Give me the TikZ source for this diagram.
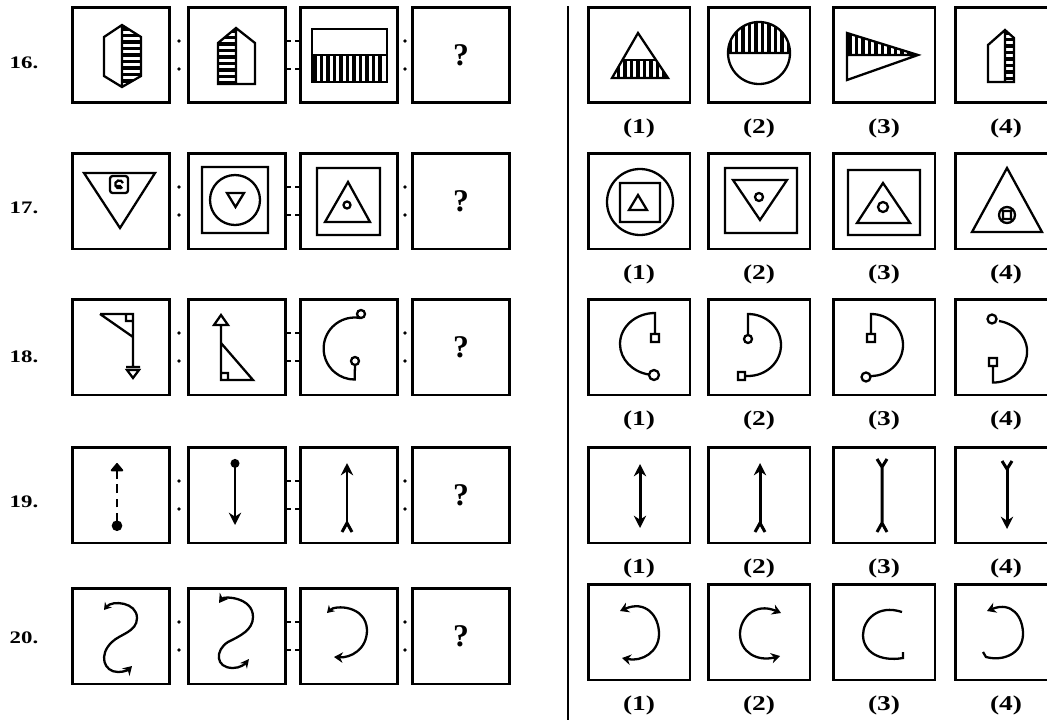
\documentclass[tikz,border=0pt]{standalone}
\usepackage{fontspec}
\setmainfont{Liberation Serif}
\newfontfamily\widefont[FakeStretch=1.3]{Liberation Serif}
\usetikzlibrary{arrows.meta}

\tikzset{
  cell/.style={draw, line width=1.7pt, minimum width=1.94cm, minimum height=1.92cm, inner sep=0pt},
  anscell/.style={cell, minimum width=2.04cm},
  fig/.style={line width=1.3pt},
  hatch/.style={line width=2.2pt},
  shaft/.style={line width=1.7pt},
  rownum/.style={font=\widefont\bfseries\fontsize{10}{12}\selectfont},
  optnum/.style={font=\widefont\bfseries\fontsize{12}{14}\selectfont},
  qmark/.style={font=\bfseries\fontsize{18}{22}\selectfont}
}

\begin{document}
\begin{tikzpicture}[x=0.02cm, y=-0.02cm]
\useasboundingbox (0,0) rectangle (1047,720);
% frames, numbers and the analogy marks
\foreach \r/\py/\ay/\ny in {16/55/55/63, 17/201/201/208, 18/347/347/357, 19/495/495/502, 20/636/632/638}{
  \node[rownum] (n\r) at (24,\ny) {\r.};
  \foreach \c/\px/\ax in {1/121/639, 2/237/759, 3/349/884, 4/461/1006}{
    \node[cell] (p\r-\c) at (\px,\py) {};
    \node[anscell] (a\r-\c) at (\ax,\ay) {};
    \node[optnum] (o\r-\c) at (\ax,\ay+73) {(\c)};
  }
  \node[qmark] (q\r) at (p\r-4) {?};
  \fill (179,\py-14) circle (1.8) (179,\py+14) circle (1.8);
  \fill (405,\py-14) circle (1.8) (405,\py+14) circle (1.8);
  \draw[line width=1.6pt] (285,\py-14)--(291,\py-14) (295,\py-14)--(301,\py-14)
                          (285,\py+14)--(291,\py+14) (295,\py+14)--(301,\py+14);
}
\draw[line width=1.6pt] (568,6)--(568,720);

% 16
\begin{scope}
\clip (122,25)--(141,37)--(141,76)--(122,87)--cycle;
\foreach \y in {29,35.5,...,87} \draw[hatch] (122,\y)--(141,\y);
\end{scope}
\draw[fig] (122,25)--(141,37)--(141,76)--(122,87)--(104,76)--(104,37)--cycle (122,25)--(122,87);
\begin{scope}
\clip (218,84)--(218,43)--(236,28)--(236,84)--cycle;
\foreach \y in {31,37.5,...,84} \draw[hatch] (218,\y)--(236,\y);
\end{scope}
\draw[fig] (218,84)--(218,43)--(236,28)--(255,43)--(255,84)--cycle (236,28)--(236,84);
\foreach \x in {315,321.5,...,385} \draw[hatch] (\x,55)--(\x,82);
\draw[fig] (312,29) rectangle (387,82) (312,55)--(387,55);
\begin{scope}
\clip (638,33)--(668,78)--(612,78)--cycle;
\foreach \x in {612,618.5,...,668} \draw[hatch] (\x,60)--(\x,78);
\draw[fig] (600,60)--(680,60);
\end{scope}
\draw[fig] (638,33)--(668,78)--(612,78)--cycle;
\begin{scope}
\clip (759,53) circle (31);
\foreach \x in {730,736.5,...,790} \draw[hatch] (\x,20)--(\x,53);
\end{scope}
\draw[fig] (759,53) circle (31) (728,53)--(790,53);
\begin{scope}
\clip (847,33)--(918,55)--(847,55)--cycle;
\foreach \x in {850,856.5,...,918} \draw[hatch] (\x,30)--(\x,55);
\end{scope}
\draw[fig] (847,33)--(918,55)--(847,80)--cycle (847,55)--(918,55);
\begin{scope}
\clip (1005,30)--(1014,38)--(1014,82)--(1005,82)--cycle;
\foreach \y in {33,39.5,...,82} \draw[hatch] (1005,\y)--(1014,\y);
\end{scope}
\draw[fig] (988,82)--(988,45)--(1005,30)--(1014,38)--(1014,82)--cycle (1005,30)--(1005,82);

% 17
\draw[fig] (84,173)--(155,173)--(120,228)--cycle;
\draw[fig, rounded corners=1.5] (110,176) rectangle (128,193);
\draw[fig] (123,183) arc[start angle=-20, end angle=-320, radius=4] (116,186)--(121,186);
\draw[fig] (202,167) rectangle (268,233) (235,200) circle (25) (227,193)--(244,193)--(235.5,207)--cycle;
\draw[fig] (317,168) rectangle (380,235) (348,182)--(370,222)--(325,222)--cycle (347,205) circle (3.5);
\draw[fig] (640,202) circle (33) (620,183) rectangle (660,222) (638,195)--(647,210)--(629,210)--cycle;
\draw[fig] (725,168) rectangle (797,233) (733,180)--(787,180)--(760,220)--cycle (759,197) circle (4);
\draw[fig] (848,170) rectangle (920,235) (883,183)--(910,223)--(857,223)--cycle (883,207) circle (5);
\draw[fig] (1007,168)--(1042,232)--(972,232)--cycle (1007,215) circle (8) (1003,211) rectangle (1011,219);

% 18
\draw[fig] (100,314)--(133,314)--(133,367) (100,314)--(133,337) (126,314) rectangle (133,321)
           (126,367)--(140,367) (127,370)--(139,370)--(133,378)--cycle;
\draw[fig] (221,315)--(228,325)--(214,325)--cycle (221,325)--(221,380)--(253,380)--(221,343)
           (221,373) rectangle (228,380);
\draw[fig] (360,318) arc[start angle=280, end angle=90, radius=31] -- (355,365)
           (361,314) circle (4) (355,361) circle (4);
\draw[fig] (655,334)--(655,313) arc[start angle=270, end angle=100, x radius=35, y radius=31]
           (654,375) circle (5) (651,334) rectangle (659,342);
\draw[fig] (748,339) circle (4) (748,335)--(748,314) arc[start angle=270, end angle=450, x radius=33, y radius=31]
           -- (745,376) (738,372) rectangle (745,380);
\draw[fig] (871,334)--(871,314) arc[start angle=270, end angle=450, x radius=32, y radius=31]
           (867,334) rectangle (875,342) (866,377) circle (4.5);
\draw[fig] (999,321) arc[start angle=280, end angle=450, x radius=34, y radius=31] -- (993,366)
           (992,319) circle (4.5) (989,358) rectangle (997,366);

% 19
\draw[line width=1pt, dash pattern=on 5pt off 3pt, {Circle[length=6pt]}-{Triangle[length=5pt,width=8pt,round]}] (117,531)--(117,463);
\draw[shaft, {Circle[length=5pt]}-{Stealth[length=7pt,width=7pt]}] (235,459)--(235,525);
\draw[shaft, -{Stealth[length=7pt,width=7pt]}] (347,523)--(347,463);
\draw[shaft] (342,532)--(347,523)--(352,532);
\draw[shaft, {Stealth[length=7pt,width=7pt]}-{Stealth[length=7pt,width=7pt]}] (640,464)--(640,528);
\draw[shaft, -{Stealth[length=7pt,width=7pt]}] (760,523)--(760,463);
\draw[shaft] (755,532)--(760,523)--(765,532);
\draw[shaft] (877,459)--(882,467)--(887,459) (882,467)--(882,523) (877,532)--(882,523)--(887,532);
\draw[shaft] (1002,461)--(1007,469)--(1012,461);
\draw[shaft, -{Stealth[length=7pt,width=7pt]}] (1007,469)--(1007,529);

% 20
\draw[fig, {Stealth[length=4pt,width=5pt]}-{Stealth[length=5pt,width=6pt]}] (104,610) .. controls (112,600) and (137,602) .. (137,618)
  .. controls (137,632) and (120,634) .. (112,642) .. controls (98,655) and (104,672) .. (118,672) .. controls (124,672) and (128,670) .. (132,666);
\draw[fig, {Stealth[length=5pt,width=6pt]}-{Stealth[length=5pt,width=5pt]}] (219,603) .. controls (224,596) and (253,597) .. (253,617)
  .. controls (253,630) and (240,636) .. (228,642) .. controls (215,650) and (215,668) .. (233,668) .. controls (240,668) and (245,664) .. (249,659);
\draw[fig, {Stealth[length=4pt,width=5pt]}-{Stealth[length=5pt,width=6pt]}] (327,613) .. controls (335,605) and (366,605) .. (367,630)
  .. controls (367,650) and (350,658) .. (334,657);
\draw[fig, {Stealth[length=5pt,width=6pt]}-{Stealth[length=5pt,width=6pt]}] (620,611) .. controls (645,600) and (659,615) .. (659,634)
  .. controls (659,652) and (642,662) .. (622,658);
\draw[fig, {Stealth[length=5pt,width=6pt]}-{Stealth[length=5pt,width=6pt]}] (781,613) .. controls (755,602) and (740,618) .. (740,634)
  .. controls (740,652) and (757,662) .. (780,656);
\draw[fig] (902,612) .. controls (878,604) and (863,620) .. (863,635) .. controls (863,652) and (880,662) .. (903,658) -- (903,652);
\draw[fig, {Stealth[length=5pt,width=6pt]}-] (987,611) .. controls (1012,601) and (1023,617) .. (1023,634)
  .. controls (1023,652) and (1005,662) .. (986,657) -- (983,652);
\end{tikzpicture}
\end{document}
